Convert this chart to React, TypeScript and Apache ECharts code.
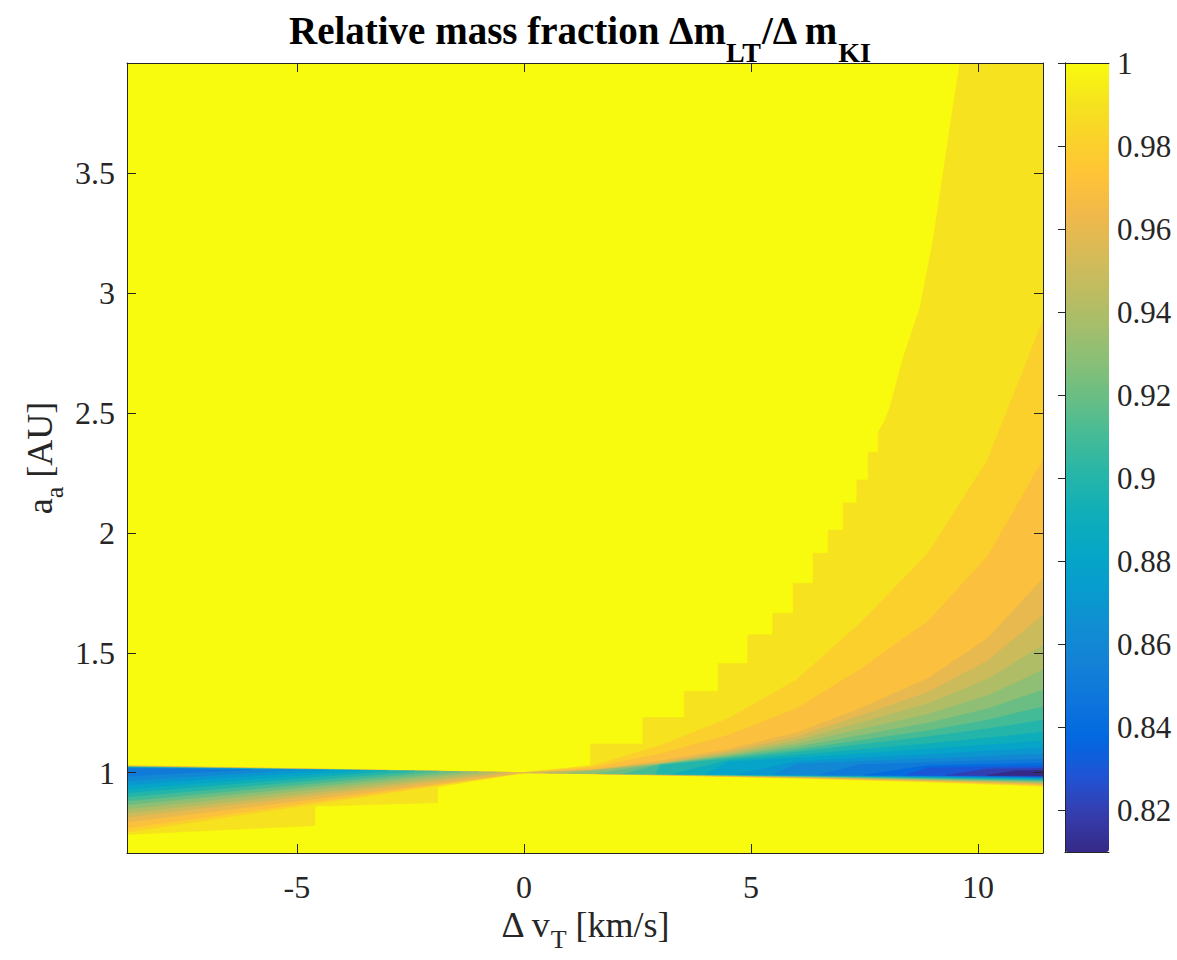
import React, { useEffect, useRef } from "react";
import * as echarts from "echarts";

// ---------------- data ----------------
const X_MIN = -8.74;
const X_MAX = 11.43;
const Y_MIN = 0.665;
const Y_MAX = 3.96;
const C_MIN = 0.81;
const C_MAX = 1.0;

const xTicks = [-5, 0, 5, 10];
const yTicks = [1, 1.5, 2, 2.5, 3, 3.5];
const cTicks = [0.82, 0.84, 0.86, 0.88, 0.9, 0.92, 0.94, 0.96, 0.98, 1];

// contour thresholds (region "value < level") and the colour value of that band
const levels = [1.0, 0.99, 0.98, 0.97, 0.96, 0.95, 0.94, 0.93, 0.92, 0.91, 0.9, 0.89, 0.88, 0.87, 0.86, 0.85, 0.84, 0.83, 0.82];
const bandValues = [0.99, 0.98, 0.97, 0.96, 0.95, 0.94, 0.93, 0.92, 0.91, 0.9, 0.89, 0.88, 0.87, 0.86, 0.85, 0.84, 0.83, 0.82, 0.81];

// right wedge (Δv > 0): upper contour y at these Δv columns, for levels 0.99 .. 0.82
const colX = [0, 1.5, 3, 4.5, 6, 7.4, 8.9, 10.2, 10.8, 11.43];
const rightUpper: (number | null)[][] = [
  [1, 1.028, 1.113, 1.226, 1.387, 1.623, 1.915, 2.302, 2.585, 2.887],
  [1, 1.02, 1.078, 1.156, 1.267, 1.43, 1.632, 1.9, 2.095, 2.304],
  [1, 1.012, 1.049, 1.097, 1.166, 1.267, 1.393, 1.559, 1.68, 1.81],
  [1, 1.0105, 1.041, 1.087, 1.148, 1.237, 1.335, 1.466, 1.558, 1.657],
  [null, 1.009, 1.037, 1.08, 1.133, 1.208, 1.288, 1.389, 1.458, 1.533],
  [null, 1.007, 1.036, 1.073, 1.12, 1.18, 1.244, 1.321, 1.372, 1.428],
  [null, null, 1.0345, 1.069, 1.107, 1.155, 1.207, 1.266, 1.304, 1.345],
  [null, null, 1.033, 1.063, 1.096, 1.134, 1.175, 1.219, 1.247, 1.274],
  [null, null, 1.031, 1.057, 1.086, 1.117, 1.15, 1.183, 1.2, 1.22],
  [null, null, null, 1.051, 1.073, 1.097, 1.121, 1.145, 1.156, 1.17],
  [null, null, null, 1.044, 1.061, 1.079, 1.098, 1.115, 1.123, 1.132],
  [null, null, null, null, 1.047, 1.062, 1.076, 1.09, 1.096, 1.103],
  [null, null, null, null, 1.036, 1.047, 1.058, 1.068, 1.073, 1.078],
  [null, null, null, null, null, 1.034, 1.042, 1.05, 1.053, 1.057],
  [null, null, null, null, null, null, 1.03, 1.035, 1.037, 1.04],
  [null, null, null, null, null, null, 1.02, 1.024, 1.026, 1.028],
  [null, null, null, null, null, null, null, 1.015, 1.016, 1.018],
  [null, null, null, null, null, null, null, null, 1.007, 1.009],
];
// Δv where each right-hand band starts (levels 0.99 .. 0.82)
const rightTipX = [0, 0, 0, 0, 0.5, 1.0, 1.6, 2.2, 2.9, 3.3, 4.0, 4.7, 5.5, 6.5, 7.5, 8.4, 9.3, 10.2];
// lower edge of the right wedge at the right border (levels 1.00 .. 0.82) and its shape along colX
const rightLowerEdgeY = [0.943, 0.946, 0.949, 0.952, 0.955, 0.958, 0.961, 0.964, 0.967, 0.97, 0.973, 0.975, 0.977, 0.979, 0.981, 0.983, 0.985, 0.986, 0.987];
const lowerProfile = [0, 0.08, 0.18, 0.29, 0.41, 0.54, 0.69, 0.85, 0.92, 1];
// stepped contour of level 1.00 on the right
const stairRight: number[][] = [
  [0, 1], [1.47, 1.03], [1.47, 1.12], [2.62, 1.12], [2.62, 1.23], [3.53, 1.23], [3.53, 1.34],
  [4.28, 1.34], [4.28, 1.455], [4.93, 1.455], [4.93, 1.575], [5.48, 1.575], [5.48, 1.665],
  [5.93, 1.665], [5.93, 1.79], [6.37, 1.79], [6.37, 1.915], [6.7, 1.915], [6.7, 2.012],
  [7.03, 2.012], [7.03, 2.125], [7.33, 2.125], [7.33, 2.221], [7.58, 2.221], [7.58, 2.337],
  [7.8, 2.337], [7.8, 2.42], [7.95, 2.47], [8.06, 2.525], [8.35, 2.73], [8.72, 2.94],
  [9.01, 3.22], [9.23, 3.5], [9.45, 3.776], [9.6, 3.96],
];
// left wedge (Δv < 0): edges at the left border
const leftUpperEdgeY = [1.03, 1.029, 1.028, 1.027, 1.026, 1.025, 1.025, 1.024, 1.023, 1.022, 1.022, 1.021, 1.02, 1.019, 1.018];
const leftLowerEdgeY = [0.752, 0.769, 0.794, 0.815, 0.832, 0.849, 0.866, 0.882, 0.899, 0.916, 0.932, 0.949, 0.966, 0.986];
const leftTipX = [0, 0, 0, -0.3, -0.6, -1.0, -1.4, -1.9, -2.4, -3.0, -3.6, -4.3, -5.1, -6.0];
const stairLeft: number[][] = [[0, 1], [-1.9, 0.94], [-1.9, 0.875], [-4.6, 0.86], [-4.6, 0.78], [X_MIN, 0.742]];

// ---------------- geometry helpers ----------------
function lowerY(li: number, k: number) {
  return 1 - (1 - rightLowerEdgeY[li]) * lowerProfile[k];
}
function lowerAt(li: number, x: number) {
  for (let k = 0; k < colX.length - 1; k++) {
    if (x >= colX[k] && x <= colX[k + 1]) {
      const t = (x - colX[k]) / (colX[k + 1] - colX[k]);
      return lowerY(li, k) + t * (lowerY(li, k + 1) - lowerY(li, k));
    }
  }
  return lowerY(li, colX.length - 1);
}
function rightPolygon(li: number): number[][] {
  const pts: number[][] = [];
  if (li === 0) {
    stairRight.forEach((p) => pts.push(p));
    pts.push([X_MAX, Y_MAX]);
    for (let k = colX.length - 1; k >= 1; k--) pts.push([colX[k], lowerY(0, k)]);
    return pts;
  }
  const j = li - 1;
  const tip = rightTipX[j];
  pts.push([tip, lowerAt(li, tip)]);
  for (let k = 0; k < colX.length; k++) {
    const v = rightUpper[j][k];
    if (colX[k] > tip && v != null) pts.push([colX[k], v]);
  }
  for (let k = colX.length - 1; k >= 0; k--) {
    if (colX[k] > tip) pts.push([colX[k], lowerY(li, k)]);
  }
  return pts;
}
function leftPolygon(li: number): number[][] | null {
  if (li === 0) {
    const pts = stairLeft.map((p) => p);
    pts.push([X_MIN, leftUpperEdgeY[0]]);
    return pts;
  }
  const j = li - 1;
  if (j >= leftLowerEdgeY.length) return null;
  const uL = leftUpperEdgeY[li];
  const tx = leftTipX[j];
  const yTip = 1 + (uL - 1) * (tx / X_MIN);
  return [[tx, yTip], [X_MIN, uL], [X_MIN, leftLowerEdgeY[j]]];
}

const parula = [
  "#352a87", "#353dad", "#2053d4", "#0268e1", "#0d75dc", "#1481d6", "#108ed2", "#079ccf",
  "#06a7c6", "#0faeb9", "#25b5a9", "#42bb98", "#65be86", "#87bf77", "#a5be6b", "#c0bc60",
  "#d9ba56", "#f1b94a", "#ffc337", "#fad32a", "#f5e41d", "#f9fb0e",
];

const SERIF = "Liberation Serif";
const INK = "#262626";

export default function App() {
  const ref = useRef<HTMLDivElement>(null);
  useEffect(() => {
    if (!ref.current) return;
    const chart = echarts.init(ref.current, undefined, { renderer: "svg" });
    const data: number[][] = [[X_MIN, Y_MIN, C_MAX, -1]];
    levels.forEach((_, li) => data.push([X_MIN, Y_MIN, bandValues[li], li]));

    const mainAxisBase = {
      type: "value" as const,
      gridIndex: 0,
      z: 5,
      splitLine: { show: false },
      axisLine: { show: true, onZero: false, lineStyle: { color: INK, width: 1 } },
    };

    const option: any = {
      animation: false,
      backgroundColor: "#ffffff",
      grid: [
        { left: 127, top: 63, width: 916, height: 790, containLabel: false },
        { left: 1065, top: 63, width: 44, height: 789, containLabel: false },
      ],
      xAxis: [
        {
          ...mainAxisBase,
          position: "bottom",
          min: X_MIN,
          max: X_MAX,
          axisTick: { show: true, inside: true, length: 9, customValues: xTicks, lineStyle: { color: INK } },
          axisLabel: { show: true, customValues: xTicks, margin: 18, fontSize: 32, fontFamily: SERIF, color: INK },
        },
        {
          ...mainAxisBase,
          position: "top",
          min: X_MIN,
          max: X_MAX,
          axisTick: { show: true, inside: true, length: 9, customValues: xTicks, lineStyle: { color: INK } },
          axisLabel: { show: false },
        },
        {
          type: "value", gridIndex: 1, position: "bottom", min: 0, max: 1, z: 10,
          splitLine: { show: false }, axisTick: { show: false }, axisLabel: { show: false },
          axisLine: { show: true, lineStyle: { color: INK, width: 1 } },
        },
        {
          type: "value", gridIndex: 1, position: "top", min: 0, max: 1, z: 10,
          splitLine: { show: false }, axisTick: { show: false }, axisLabel: { show: false },
          axisLine: { show: true, lineStyle: { color: INK, width: 1 } },
        },
      ],
      yAxis: [
        {
          ...mainAxisBase,
          position: "left",
          min: Y_MIN,
          max: Y_MAX,
          axisTick: { show: true, inside: true, length: 9, customValues: yTicks, lineStyle: { color: INK } },
          axisLabel: { show: true, customValues: yTicks, margin: 12, fontSize: 32, fontFamily: SERIF, color: INK },
        },
        {
          ...mainAxisBase,
          position: "right",
          min: Y_MIN,
          max: Y_MAX,
          axisTick: { show: true, inside: true, length: 9, customValues: yTicks, lineStyle: { color: INK } },
          axisLabel: { show: false },
        },
        {
          type: "value", gridIndex: 1, position: "right", min: C_MIN, max: C_MAX, z: 10,
          splitLine: { show: false },
          axisLine: { show: true, lineStyle: { color: INK, width: 1 } },
          axisTick: { show: true, inside: true, length: 7, customValues: cTicks, lineStyle: { color: INK } },
          axisLabel: { show: true, customValues: cTicks, margin: 8, fontSize: 31, fontFamily: SERIF, color: INK },
        },
        {
          type: "value", gridIndex: 1, position: "left", min: C_MIN, max: C_MAX, z: 10,
          splitLine: { show: false }, axisTick: { show: false }, axisLabel: { show: false },
          axisLine: { show: true, lineStyle: { color: INK, width: 1 } },
        },
      ],
      visualMap: {
        type: "continuous",
        min: C_MIN,
        max: C_MAX,
        dimension: 2,
        seriesIndex: 0,
        calculable: false,
        left: 1065,
        top: 63,
        itemWidth: 44,
        itemHeight: 789,
        padding: 0,
        inRange: { color: parula },
      },
      series: [
        {
          type: "custom",
          coordinateSystem: "cartesian2d",
          xAxisIndex: 0,
          yAxisIndex: 0,
          encode: { x: 0, y: 1 },
          dimensions: ["x", "y", "v", "li"],
          silent: true,
          data,
          renderItem: (params: any, api: any) => {
            const li = api.value(3);
            const cs = params.coordSys;
            const fill = api.visual("color");
            const polys: number[][][] = [];
            if (li < 0) {
              polys.push([[X_MIN, Y_MIN], [X_MAX, Y_MIN], [X_MAX, Y_MAX], [X_MIN, Y_MAX]]);
            } else {
              polys.push(rightPolygon(li));
              const lp = leftPolygon(li);
              if (lp) polys.push(lp);
            }
            return {
              type: "group",
              clipPath: { type: "rect", shape: { x: cs.x, y: cs.y, width: cs.width, height: cs.height } },
              children: polys.map((p) => ({
                type: "polygon",
                shape: { points: p.map((q) => api.coord(q)) },
                style: { fill, stroke: fill, lineWidth: 0.6 },
              })),
            };
          },
        },
      ],
      graphic: [
        {
          type: "text",
          x: 580,
          y: 19,
          style: {
            text: "{b|Relative mass fraction Δm}{s|LT}{b|/Δ m}{s|KI}",
            align: "center",
            verticalAlign: "top",
            fill: "#000",
            rich: {
              b: { fontSize: 39, fontWeight: "bold", fontFamily: SERIF, lineHeight: 44, padding: [0, 0, 22, 0], fill: "#000" },
              s: { fontSize: 28, fontWeight: "bold", fontFamily: SERIF, lineHeight: 44, padding: [22, 0, 0, 0], fill: "#000" },
            },
          },
        },
        {
          type: "text",
          x: 585,
          y: 912,
          style: {
            text: "{n|Δ v}{s|T}{n| [km/s]}",
            align: "center",
            verticalAlign: "top",
            fill: INK,
            rich: {
              n: { fontSize: 36, fontFamily: SERIF, lineHeight: 40, padding: [0, 0, 14, 0], fill: INK },
              s: { fontSize: 26, fontFamily: SERIF, lineHeight: 40, padding: [14, 0, 0, 0], fill: INK },
            },
          },
        },
        {
          type: "text",
          x: 47,
          y: 458,
          rotation: Math.PI / 2,
          style: {
            text: "{n|a}{s|a}{n| [AU]}",
            align: "center",
            verticalAlign: "middle",
            fill: INK,
            rich: {
              n: { fontSize: 36, fontFamily: SERIF, lineHeight: 40, padding: [0, 0, 14, 0], fill: INK },
              s: { fontSize: 26, fontFamily: SERIF, lineHeight: 40, padding: [14, 0, 0, 0], fill: INK },
            },
          },
        },
      ],
    };
    chart.setOption(option);
    return () => chart.dispose();
  }, []);
  return (
    <div
      ref={ref}
      style={{ position: "fixed", left: 0, top: 0, width: "1177px", height: "960px", background: "#fff" }}
    />
  );
}
